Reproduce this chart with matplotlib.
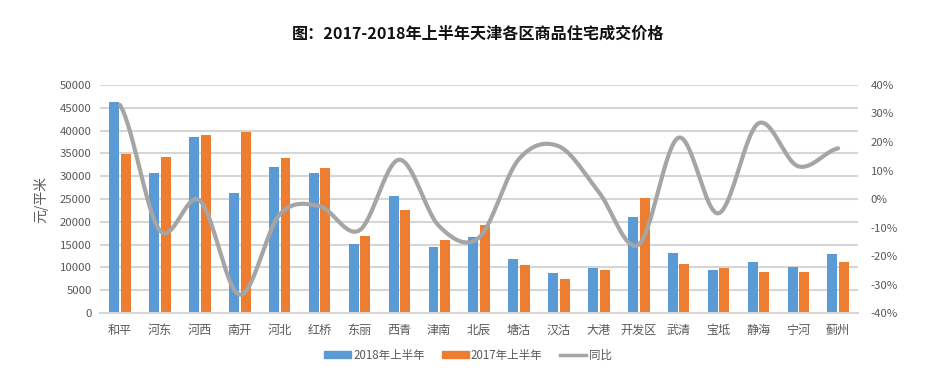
import numpy as np
import matplotlib
matplotlib.use("Agg")
import matplotlib.pyplot as plt
from matplotlib.patches import Patch
from matplotlib.lines import Line2D

plt.rcParams['font.family'] = ['Noto Sans CJK SC', 'DejaVu Sans']

districts = ["和平", "河东", "河西", "南开", "河北", "红桥", "东丽", "西青", "津南", "北辰",
             "塘沽", "汉沽", "大港", "开发区", "武清", "宝坻", "静海", "宁河", "蓟州"]
price_2018 = [46200, 30700, 38700, 26350, 32050, 30800, 15200, 25700, 14400, 16650,
              11900, 8850, 9800, 21100, 13200, 9400, 11300, 10000, 13050]
price_2017 = [34900, 34200, 39000, 39800, 34000, 31700, 16950, 22550, 16000, 19350,
              10500, 7400, 9500, 25250, 10800, 9950, 8950, 9100, 11100]
yoy = [33, -11, -0.5, -33.5, -5.5, -2.5, -11, 13.8, -9.5, -13.5,
       14, 18.5, 2.5, -16, 21.5, -5, 26.5, 11.5, 17.8]

blue = "#5b9bd5"
orange = "#ed7d31"
gray = "#a5a5a5"
txt = "#595959"


def smooth(xs, ys, n=30):
    # catmull-rom style curve like excel's smoothed line
    xs = np.asarray(xs, float)
    ys = np.asarray(ys, float)
    px = np.concatenate([[2 * xs[0] - xs[1]], xs, [2 * xs[-1] - xs[-2]]])
    py = np.concatenate([[ys[0]], ys, [ys[-1]]])
    ox, oy = [], []
    for i in range(1, len(px) - 2):
        t = np.linspace(0, 1, n)
        p0, p1, p2, p3 = py[i - 1], py[i], py[i + 1], py[i + 2]
        q0, q1, q2, q3 = px[i - 1], px[i], px[i + 1], px[i + 2]
        f = lambda a0, a1, a2, a3: 0.5 * ((2 * a1) + (-a0 + a2) * t +
                                          (2 * a0 - 5 * a1 + 4 * a2 - a3) * t ** 2 +
                                          (-a0 + 3 * a1 - 3 * a2 + a3) * t ** 3)
        ox.append(f(q0, q1, q2, q3))
        oy.append(f(p0, p1, p2, p3))
    return np.concatenate(ox), np.concatenate(oy)


fig = plt.figure(figsize=(9.37, 3.88), dpi=100)
ax = fig.add_axes([0.1067, 0.193, 0.809, 0.588])
x = np.arange(len(districts))
w = 0.25
ax.bar(x - 0.14, price_2018, w, color=blue, zorder=2)
ax.bar(x + 0.15, price_2017, w, color=orange, zorder=2)
ax.set_xlim(-0.5, len(districts) - 0.5)
ax.set_ylim(0, 50000)
ax.set_yticks(np.arange(0, 50001, 5000))
ax.yaxis.grid(True, color="#d6d6d6", linewidth=1.5, zorder=0)
ax.set_axisbelow(True)
for s in ax.spines.values():
    s.set_visible(False)
ax.spines['bottom'].set_visible(True)
ax.spines['bottom'].set_color("#d6d6d6")
ax.spines['bottom'].set_linewidth(1.5)
ax.set_xticks(x)
ax.set_xticklabels(districts)
ax.tick_params(axis='x', length=0, labelsize=8.7, colors=txt, pad=8)
ax.tick_params(axis='y', length=0, labelsize=8.2, colors=txt, pad=6)
ax.set_ylabel("元/平米", fontsize=10, color=txt, labelpad=8)

ax2 = ax.twinx()
sx, sy = smooth(x, yoy)
ax2.plot(sx, sy, color=gray, linewidth=3, solid_capstyle='round', zorder=3)
ax2.set_ylim(-40, 40)
ax2.set_yticks(np.arange(-40, 41, 10))
ax2.set_yticklabels(["%d%%" % v for v in range(-40, 41, 10)])
ax2.tick_params(axis='y', length=0, labelsize=8.2, colors=txt, pad=9)
for s in ax2.spines.values():
    s.set_visible(False)

fig.text(0.51, 0.912, "图：2017-2018年上半年天津各区商品住宅成交价格", ha='center', va='center',
         fontsize=11.6, fontweight='bold', color="#111111")

handles = [Patch(color=blue, label="2018年上半年"),
           Patch(color=orange, label="2017年上半年"),
           Line2D([0], [0], color=gray, linewidth=2.5, label="同比")]
fig.legend(handles=handles, loc='center', bbox_to_anchor=(0.4995, 0.085), ncol=3, frameon=False,
           fontsize=8.3, labelcolor=txt, handlelength=2.3, handleheight=0.45, columnspacing=1.5,
           handletextpad=0.2)

fig.savefig("out.png", dpi=100)
